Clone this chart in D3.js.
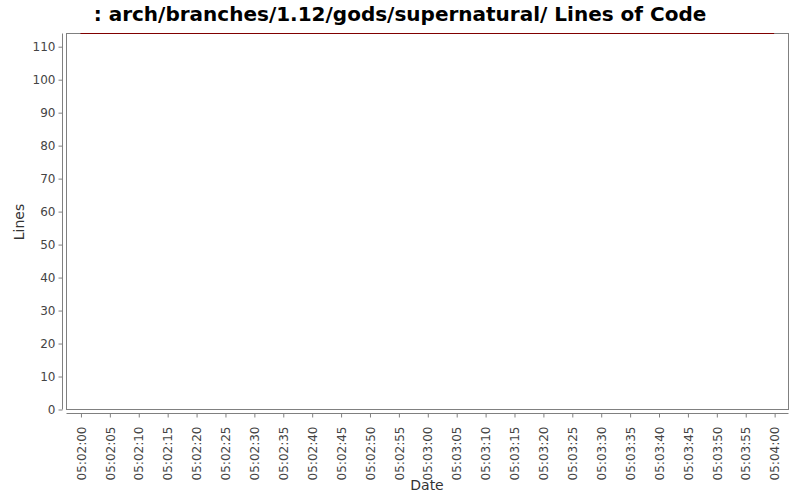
<!DOCTYPE html>
<html>
<head>
<meta charset="utf-8">
<script src="https://cdn.jsdelivr.net/npm/d3@7"></script>
<style>
  body { margin: 0; background: #fff; }
  text { font-family: "DejaVu Sans", sans-serif; }
</style>
</head>
<body>
<div id="chart"></div>
<script>
const FRAME_WIDTH = 800;
const FRAME_HEIGHT = 500;

const MARGINS = {left: 66, right: 12, top: 33, bottom: 91};

const TITLE = " : arch/branches/1.12/gods/supernatural/ Lines of Code";

// data
const times = ["05:02:00", "05:04:00"];
const lines = [114, 114];
const yTicks = [0, 10, 20, 30, 40, 50, 60, 70, 80, 90, 100, 110];

const parse = d3.timeParse("%H:%M:%S");
const data = times.map((t, i) => ({date: parse(t), value: lines[i]}));

const VIS_WIDTH = FRAME_WIDTH - MARGINS.left - MARGINS.right;
const VIS_HEIGHT = FRAME_HEIGHT - MARGINS.top - MARGINS.bottom;

const svg = d3.select("#chart")
  .append("svg")
  .attr("width", FRAME_WIDTH)
  .attr("height", FRAME_HEIGHT);

// x from first to last point, with a little room either side
const first = parse(times[0]), last = parse(times[times.length - 1]);
const X_SCALE = d3.scaleTime()
  .domain([new Date(+first - 2500), new Date(+last + 2400)])
  .range([MARGINS.left, MARGINS.left + VIS_WIDTH]);

const Y_SCALE = d3.scaleLinear()
  .domain([0, d3.max(lines)])
  .range([MARGINS.top + VIS_HEIGHT, MARGINS.top]);

// title
svg.append("text")
  .attr("x", 400)
  .attr("y", 21)
  .attr("text-anchor", "middle")
  .attr("font-size", "20px")
  .attr("font-weight", "bold")
  .attr("fill", "#000")
  .text(TITLE);

// plot box
svg.append("rect")
  .attr("x", MARGINS.left + 0.5)
  .attr("y", MARGINS.top + 0.5)
  .attr("width", VIS_WIDTH)
  .attr("height", VIS_HEIGHT)
  .attr("fill", "#fff")
  .attr("stroke", "#808080")
  .attr("stroke-width", 1);

// y axis, set off to the left of the box
const yAxis = svg.append("g")
  .attr("transform", "translate(62.5,0.5)")
  .call(d3.axisLeft(Y_SCALE).tickValues(yTicks).tickSizeOuter(0).tickSize(4).tickPadding(3));

// x axis, set below the box
const tickTimes = d3.timeSecond.every(5).range(first, new Date(+last + 1));
const xAxis = svg.append("g")
  .attr("transform", "translate(0.5," + (MARGINS.top + VIS_HEIGHT + 4.5) + ")")
  .call(d3.axisBottom(X_SCALE).tickValues(tickTimes).tickFormat(d3.timeFormat("%H:%M:%S")).tickSizeOuter(0).tickSize(4));

xAxis.selectAll("text")
  .attr("transform", "rotate(-90)")
  .attr("text-anchor", "end")
  .attr("x", -13)
  .attr("y", 0)
  .attr("dy", "0.35em");

[yAxis, xAxis].forEach(g => {
  g.select(".domain").attr("stroke", "#808080");
  g.selectAll(".tick line").attr("stroke", "#808080");
  g.selectAll(".tick text")
    .attr("font-family", "DejaVu Sans, sans-serif")
    .attr("font-size", "12px")
    .attr("fill", "#444");
});

// domain lines span the whole plot
xAxis.select(".domain").attr("d", "M" + MARGINS.left + ",0H" + (MARGINS.left + VIS_WIDTH));
yAxis.select(".domain").attr("d", "M0," + MARGINS.top + "V" + (MARGINS.top + VIS_HEIGHT));

// axis labels
svg.append("text")
  .attr("transform", "translate(24,222) rotate(-90)")
  .attr("text-anchor", "middle")
  .attr("font-size", "14px")
  .attr("fill", "#333")
  .text("Lines");

svg.append("text")
  .attr("x", 427)
  .attr("y", 490)
  .attr("text-anchor", "middle")
  .attr("font-size", "14px")
  .attr("fill", "#333")
  .text("Date");

// the series
const line = d3.line()
  .x(d => X_SCALE(d.date))
  .y(d => Y_SCALE(d.value));

svg.append("path")
  .datum(data)
  .attr("d", line)
  .attr("transform", "translate(0,0.5)")
  .attr("fill", "none")
  .attr("stroke", "#800000")
  .attr("stroke-width", 1.2);
</script>
</body>
</html>
